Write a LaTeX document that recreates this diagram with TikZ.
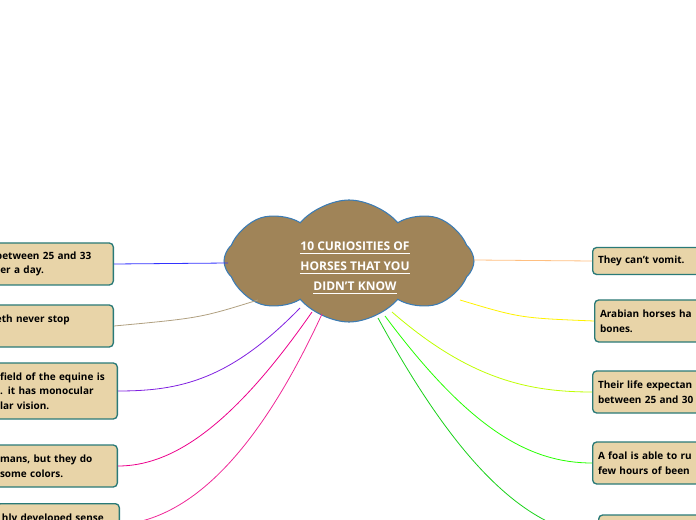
\documentclass[tikz,border=0pt]{standalone}
\usepackage{fontspec}
\setmainfont{Open Sans}
\usetikzlibrary{shapes.symbols}
\definecolor{cloudfill}{HTML}{A08458}
\definecolor{cloudline}{HTML}{3C7CB4}
\definecolor{boxfill}{HTML}{E8D4A8}
\definecolor{boxline}{HTML}{2A7A78}
\definecolor{linkpurple}{HTML}{8020E0}
\definecolor{linktan}{HTML}{B0A080}
\tikzset{
    topic/.style={draw=boxline, fill=boxfill, line width=1pt, rounded corners=3pt,
        font=\bfseries\fontsize{7.5}{11}\selectfont, align=left, inner sep=4pt},
    lefttopic/.style={topic, anchor=east, text width=112*0.75pt},
    righttopic/.style={topic, anchor=west, text width=130*0.75pt},
    link/.style={line width=0.6pt}
}
\begin{document}
\begin{tikzpicture}[x=0.75pt,y=-0.75pt]
    \useasboundingbox (0,0) rectangle (696,520);
    \clip (0,0) rectangle (696,520);

    \node[cloud, cloud puffs=8, cloud puff arc=100, aspect=2.1, draw=cloudline, fill=cloudfill, line width=0.8pt,
        minimum width=250*0.75pt, minimum height=122*0.75pt] (title) at (349,261) {};
    \node[text=white, font=\bfseries\fontsize{9}{15}\selectfont, align=center] (titletext) at (355,268)
        {\underline{10 CURIOSITIES OF}\\\underline{HORSES THAT YOU}\\\underline{DIDN'T KNOW}};

    % left side
    \node[lefttopic, minimum height=42*0.75pt] (drink) at (114,264) {between 25 and 33\\ter a day.};
    \node[lefttopic, minimum height=42*0.75pt] (teeth) at (114,326) {eth never stop\\\mbox{}};
    \node[lefttopic, minimum height=56*0.75pt] (field) at (118,391) {field of the equine is\\. it has monocular\\lar vision.};
    \node[lefttopic, minimum height=42*0.75pt] (colors) at (118,466) {mans, but they do\\ some colors.};
    \node[lefttopic, minimum height=42*0.75pt, anchor=north east] (sense) at (120,503) {hly developed sense\\\mbox{}};

    % right side
    \node[righttopic, minimum height=27*0.75pt] (vomit) at (592,261) {They can't vomit.};
    \node[righttopic, minimum height=42*0.75pt] (arabian) at (594,321) {Arabian horses ha\\bones.};
    \node[righttopic, minimum height=42*0.75pt] (life) at (592,392) {Their life expectan\\between 25 and 30};
    \node[righttopic, minimum height=42*0.75pt] (foal) at (592,463) {A foal is able to ru\\few hours of been};
    \node[righttopic, minimum height=42*0.75pt] (last) at (598,536) {\mbox{}\\\mbox{}};

    \draw[link, color=blue!80] (228,263) -- (drink.east);
    \draw[link, color=linktan] (258,300) .. controls (200,318) .. (teeth.east);
    \draw[link, color=linkpurple] (300,308) .. controls (230,380) and (180,391) .. (field.east);
    \draw[link, color=magenta] (312,312) .. controls (230,430) and (170,466) .. (colors.east);
    \draw[link, color=magenta!80!pink] (322,314) .. controls (250,470) and (180,520) .. (sense.east);
    \draw[link, color=orange!50] (474,260) -- (vomit.west);
    \draw[link, color=yellow] (460,300) .. controls (520,318) .. (arabian.west);
    \draw[link, color=lime] (392,312) .. controls (470,380) and (530,392) .. (life.west);
    \draw[link, color=green!80!lime] (385,316) .. controls (470,430) and (530,463) .. (foal.west);
    \draw[link, color=green!80!black!90] (378,318) .. controls (450,450) and (520,530) .. (last.west);
\end{tikzpicture}
\end{document}
